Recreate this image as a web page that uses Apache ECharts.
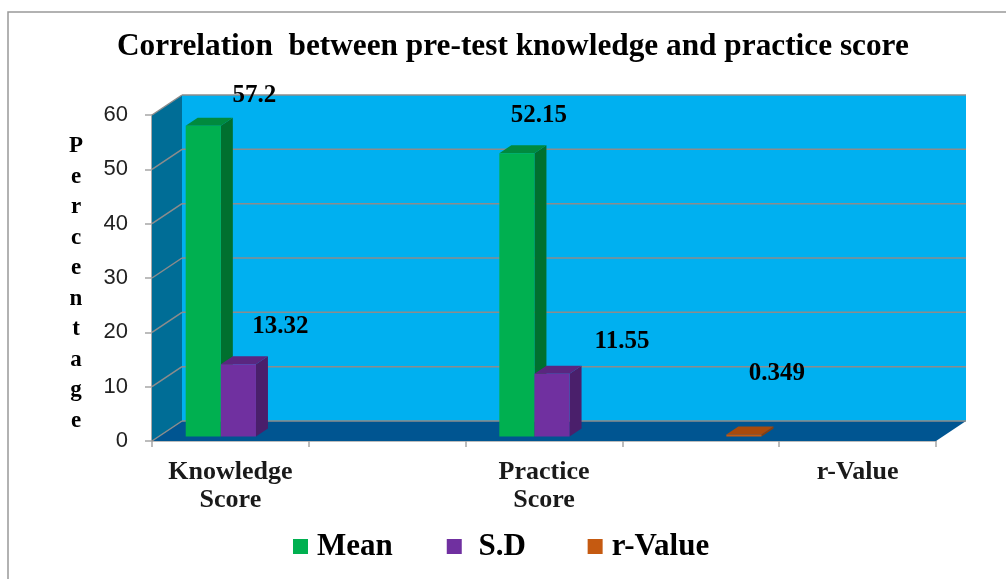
<!DOCTYPE html>
<html>
<head>
<meta charset="utf-8">
<style>
  html, body { margin: 0; padding: 0; background: #fff; }
  #chart { width: 1006px; height: 579px; }
</style>
<script src="https://cdn.jsdelivr.net/npm/echarts@6/dist/echarts.min.js"></script>
</head>
<body>
<div id="chart"></div>
<script>
// ---- data ----
const categories = ['Knowledge\nScore', '', 'Practice\nScore', '', 'r-Value'];
const meanValues = [57.2, null, 52.15, null, null];
const sdValues = [13.32, null, 11.55, null, null];
const rValues = [null, null, null, 0.349, null];
const yTicks = [0, 10, 20, 30, 40, 50, 60];

// ---- 3D look ----
const SERIF = '"Liberation Serif", "Times New Roman", serif';
const WALL_DX = 30, WALL_DY = -20;    // depth of the chart box
const BAR_DX = 12, BAR_DY = -8;       // depth of one bar
const PLANE_DX = 8, PLANE_DY = -4.5;  // bars stand a little behind the front edge
const BAR_SHARE = 0.224;              // bar width / category width

// label nudges from the top of each bar (they were dragged by hand in the original)
const labelNudge = {
  Mean: { 0: [51, -30], 2: [22, -38] },
  'S.D': { 0: [42, -38], 2: [70, -32] },
  'r-Value': { 3: [33, -61] },
};

function poly(points, fill) {
  return { type: 'polygon', shape: { points }, style: { fill } };
}

// back wall, side wall, floor and the gridlines that fold round them
function renderFrame(params, api) {
  const v = api.value(0);
  const [x0, y] = api.coord([0, v]);
  const cs = params.coordSys;
  const xL = cs.x, xR = cs.x + cs.width;
  const line = (x1, y1, x2, y2) => ({
    type: 'line', shape: { x1, y1, x2, y2 }, style: { stroke: '#8c8c8c', lineWidth: 1.5 },
  });
  const children = [];
  if (params.dataIndex === 0) {
    const top = cs.y, bot = cs.y + cs.height;
    children.push(poly([[xL + WALL_DX, top + WALL_DY], [xR + WALL_DX, top + WALL_DY], [xR + WALL_DX, bot + WALL_DY], [xL + WALL_DX, bot + WALL_DY]], '#00b0f0'));
    children.push(poly([[xL, top], [xL + WALL_DX, top + WALL_DY], [xL + WALL_DX, bot + WALL_DY], [xL, bot]], '#006d96'));
    children.push(poly([[xL, bot], [xL + WALL_DX, bot + WALL_DY], [xR + WALL_DX, bot + WALL_DY], [xR, bot]], '#005591'));
  }
  children.push(line(xL, y, xL + WALL_DX, y + WALL_DY));
  children.push(line(xL + WALL_DX, y + WALL_DY, xR + WALL_DX, y + WALL_DY));
  return { type: 'group', children };
}

function barSeries(name, values, slot, colors) {
  return {
    name,
    type: 'custom',
    data: values.map((v, i) => [i, v]).filter((d) => d[1] != null),
    encode: { x: 0, y: 1 },
    itemStyle: { color: colors[0] },
    z: 5 + slot,
    renderItem(params, api) {
      const idx = api.value(0), val = api.value(1);
      const [cx, yTop] = api.coord([idx, val]);
      const [, yBase] = api.coord([idx, 0]);
      const w = api.size([1, 0])[0] * BAR_SHARE;
      const left = cx - w * 1.5 + slot * w + PLANE_DX;
      const right = left + w;
      const top = yTop + PLANE_DY, bot = yBase + PLANE_DY;
      const [nx, ny] = labelNudge[name][idx];
      return {
        type: 'group',
        children: [
          poly([[right, top], [right + BAR_DX, top + BAR_DY], [right + BAR_DX, bot + BAR_DY], [right, bot]], colors[2]),
          poly([[left, top], [left + BAR_DX, top + BAR_DY], [right + BAR_DX, top + BAR_DY], [right, top]], colors[1]),
          poly([[left, top], [right, top], [right, bot], [left, bot]], colors[0]),
          {
            type: 'text',
            z2: 20,
            style: {
              x: (left + right) / 2 + nx, y: top + ny, text: String(val),
              align: 'center', verticalAlign: 'middle',
              font: 'bold 25px ' + SERIF, fill: '#000',
            },
          },
        ],
      };
    },
  };
}

const chart = echarts.init(document.getElementById('chart'));
chart.setOption({
  animation: false,
  backgroundColor: '#fff',
  title: {
    text: 'Correlation  between pre-test knowledge and practice score',
    left: 112, top: 26,
    textStyle: { fontFamily: SERIF, fontWeight: 'bold', fontSize: 31.3, color: '#000' },
  },
  legend: {
    data: ['Mean', 'S.D', 'r-Value'],
    left: 288, top: 526,
    icon: 'rect',
    itemWidth: 15, itemHeight: 15, itemGap: 54,
    formatter: (n) => (n === 'S.D' ? ' S.D ' : n),
    textStyle: { fontFamily: SERIF, fontWeight: 'bold', fontSize: 31, color: '#000', padding: [0, 0, 0, 4] },
  },
  grid: { left: 152, right: 70, top: 115, bottom: 138 },
  xAxis: {
    type: 'category',
    data: categories,
    axisTick: { show: true, alignWithLabel: false, length: 6, lineStyle: { color: '#a6a6a6', width: 1.5 } },
    axisLine: { lineStyle: { color: '#a6a6a6', width: 1.5 } },
    axisLabel: { interval: 0, margin: 17, lineHeight: 28, fontFamily: SERIF, fontWeight: 'bold', fontSize: 26, color: '#1a1a1a' },
  },
  yAxis: {
    type: 'value', min: 0, max: 60, interval: 10,
    axisLine: { show: true, lineStyle: { color: '#8c8c8c', width: 1.5 } },
    axisTick: { show: true, length: 7, lineStyle: { color: '#a6a6a6', width: 1.5 } },
    axisLabel: { margin: 24, padding: [4, 0, 0, 0], fontFamily: '"Liberation Sans", Arial, sans-serif', fontSize: 22, color: '#222' },
    splitLine: { show: false },
  },
  graphic: [
    {
      type: 'rect', silent: true, z: -1,
      shape: { x: 8, y: 12, width: 1100, height: 700 },
      style: { fill: 'none', stroke: '#999', lineWidth: 1.5 },
    },
    // 纵向轴标题，比绘图区中心略低，所以不用 yAxis.name
    {
      type: 'text', silent: true, x: 76, y: 283.5,
      style: {
        text: 'Percentage'.split('').join('\n'),
        align: 'center', verticalAlign: 'middle', lineHeight: 30.5,
        font: 'bold 23px ' + SERIF, fill: '#000',
      },
    },
  ],
  series: [
    {
      name: 'frame', type: 'custom', silent: true, z: 1,
      data: yTicks.map((t) => [t]),
      encode: { y: 0 },
      renderItem: renderFrame,
    },
    barSeries('Mean', meanValues, 0, ['#00b050', '#008a3e', '#00702f']),
    barSeries('S.D', sdValues, 1, ['#7030a0', '#5a2680', '#4a1f6b']),
    barSeries('r-Value', rValues, 2, ['#c55a11', '#a84a0c', '#8c3e0a']),
  ],
});
</script>
</body>
</html>
